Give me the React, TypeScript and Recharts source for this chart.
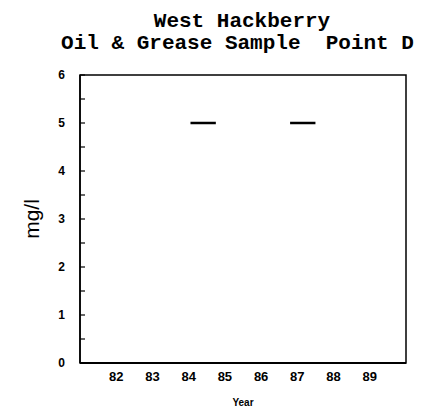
import { LineChart, Line, XAxis, YAxis, ReferenceArea } from "recharts";

const TITLE_LINES = ["West Hackberry", "Oil & Grease Sample  Point D"];
const YEAR_TICKS = [82, 83, 84, 85, 86, 87, 88, 89];
const Y_TICKS = [0, 0.5, 1, 1.5, 2, 2.5, 3, 3.5, 4, 4.5, 5, 5.5, 6];
const SEGMENT_A = [
  { year: 84.05, value: 5 },
  { year: 84.75, value: 5 },
];
const SEGMENT_B = [
  { year: 86.8, value: 5 },
  { year: 87.5, value: 5 },
];

const INK = "#000";
const TICK_FONT = "'Liberation Sans', Arial, sans-serif";

function YTick(props: any) {
  const { x, y, payload } = props;
  const v = payload.value as number;
  const major = Number.isInteger(v);
  return (
    <g>
      <line x1={x} x2={x + 5} y1={y} y2={y} stroke={INK} strokeWidth={1.2} />
      {major && (
        <text
          x={x - 15}
          y={y}
          dy="0.35em"
          textAnchor="end"
          fontFamily={TICK_FONT}
          fontWeight="bold"
          fontSize={12}
          fill={INK}
        >
          {v}
        </text>
      )}
    </g>
  );
}

export default function App() {
  return (
    <div style={{ position: "absolute", left: 0, top: 0, width: 427, height: 410, background: "#fff" }}>
      <div
        style={{
          position: "absolute",
          left: 24,
          top: 11,
          width: 427,
          textAlign: "center",
          fontFamily: "'Liberation Mono', 'Courier New', monospace",
          fontWeight: "bold",
          fontSize: 21,
          lineHeight: "22px",
          whiteSpace: "pre",
          color: INK,
        }}
      >
        <div style={{ paddingLeft: 9 }}>{TITLE_LINES[0]}</div>
        <div>{TITLE_LINES[1]}</div>
      </div>
      <LineChart width={427} height={410} margin={{ top: 75, right: 21, bottom: 0, left: 0 }}>
        <XAxis
          dataKey="year"
          type="number"
          domain={[81, 90]}
          ticks={YEAR_TICKS}
          allowDataOverflow
          height={47}
          tickLine={false}
          tickSize={0}
          tickMargin={9}
          axisLine={{ stroke: INK, strokeWidth: 1.8 }}
          tick={{ fontSize: 13, fontWeight: "bold", fill: INK, fontFamily: TICK_FONT }}
          label={{
            value: "Year",
            position: "insideBottom",
            offset: 4,
            style: { fontSize: 10, fontWeight: "bold", fill: INK, fontFamily: TICK_FONT },
          }}
        />
        <YAxis
          type="number"
          domain={[0, 6]}
          ticks={Y_TICKS}
          interval={0}
          width={80}
          tickLine={false}
          tickSize={0}
          tickMargin={0}
          tick={<YTick />}
          axisLine={{ stroke: INK, strokeWidth: 1.5 }}
          label={{
            value: "mg/l",
            angle: -90,
            position: "insideLeft",
            offset: 32,
            style: { fontSize: 21, fill: INK, fontFamily: TICK_FONT, textAnchor: "middle" },
          }}
        />
        <ReferenceArea
          x1={81}
          x2={90}
          y1={0}
          y2={6}
          fill="none"
          fillOpacity={0}
          stroke={INK}
          strokeWidth={1.5}
          ifOverflow="visible"
        />
        <Line
          data={SEGMENT_A}
          dataKey="value"
          stroke={INK}
          strokeWidth={2.5}
          dot={false}
          isAnimationActive={false}
        />
        <Line
          data={SEGMENT_B}
          dataKey="value"
          stroke={INK}
          strokeWidth={2.5}
          dot={false}
          isAnimationActive={false}
        />
      </LineChart>
    </div>
  );
}
